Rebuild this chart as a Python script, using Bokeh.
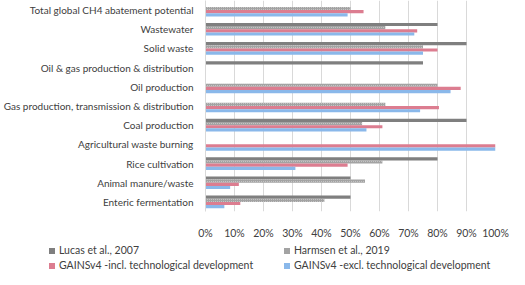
import numpy as np
from bokeh.plotting import figure
from bokeh.layouts import column
from bokeh.models import ColumnDataSource, FactorRange, PrintfTickFormatter, FixedTicker, Div
from bokeh.transform import dodge
from bokeh.embed import file_html
from bokeh.resources import INLINE

nan = np.nan
categories = [
    "Total global CH4 abatement potential",
    "Wastewater",
    "Solid waste",
    "Oil & gas production & distribution",
    "Oil production",
    "Gas production, transmission & distribution",
    "Coal production",
    "Agricultural waste burning",
    "Rice cultivation",
    "Animal manure/waste",
    "Enteric fermentation",
]
lucas = [nan, 80, 90, 75, nan, nan, 90, nan, 80, 50, 50]
harmsen = [50, 62, 75, nan, 80, 62, 54, nan, 61, 55, 41]
gains_incl = [54.5, 73, 80, nan, 88, 80.5, 61, 100, 49, 11.5, 12]
gains_excl = [49, 72, 75, nan, 84.5, 74, 55.5, 100, 31, 8.5, 6.5]
x_ticks = [0, 10, 20, 30, 40, 50, 60, 70, 80, 90, 100]
series_names = ["Lucas et al., 2007", "Harmsen et al., 2019",
                "GAINSv4 -incl. technological development",
                "GAINSv4 -excl. technological development"]
colors = ["#7f7f7f", "#a3a3a3", "#dc7d90", "#8ab8ea"]

src = ColumnDataSource(dict(cat=categories, lucas=lucas, harmsen=harmsen,
                            incl=gains_incl, excl=gains_excl))

FONT = "Lato"
TXT = "#404040"
HATCH = dict(hatch_pattern=".", hatch_color="#cfcfcf", hatch_scale=2, hatch_weight=1)

p = figure(width=509, height=241, output_backend="svg", toolbar_location=None,
           y_range=FactorRange(factors=list(reversed(categories)), range_padding=0),
           x_range=(0, 100),
           min_border_left=199, min_border_right=14, min_border_top=0, min_border_bottom=24)
p.outline_line_color = None

bh = 0.165
fields = ["lucas", "harmsen", "incl", "excl"]
offsets = [1.5 * bh, 0.5 * bh, -0.5 * bh, -1.5 * bh]
for i, (f, off) in enumerate(zip(fields, offsets)):
    extra = HATCH if i == 1 else {}
    p.hbar(y=dodge("cat", off, range=p.y_range), right=f, left=0, height=bh,
           source=src, fill_color=colors[i], line_color=None, **extra)

# axes
p.xaxis.ticker = FixedTicker(ticks=x_ticks)
p.xaxis.formatter = PrintfTickFormatter(format="%d%%")
p.xaxis.axis_line_color = None
p.xaxis.major_tick_line_color = None
p.xaxis.minor_tick_line_color = None
p.xaxis.major_label_text_font = FONT
p.xaxis.major_label_text_font_size = "10.5px"
p.xaxis.major_label_text_color = TXT
p.xaxis.major_label_standoff = 9

p.yaxis.axis_line_color = "#d9d9d9"
p.yaxis.major_tick_line_color = None
p.yaxis.minor_tick_line_color = None
p.yaxis.major_label_text_font = FONT
p.yaxis.major_label_text_font_size = "10px"
p.yaxis.major_label_text_color = TXT
p.yaxis.major_label_standoff = 6

p.xgrid.grid_line_color = "#d9d9d9"
p.ygrid.grid_line_color = None

# legend (two columns, two rows) as a simple HTML strip under the chart
col_x = [49, 284]
row_y = [3, 18]
parts = []
for i, name in enumerate(series_names):
    cx = col_x[i % 2]
    ry = row_y[i // 2]
    parts.append(
        f'<span style="position:absolute;left:{cx}px;top:{ry + 4}px;width:6px;height:6px;'
        f'background:{colors[i]};"></span>'
        f'<span style="position:absolute;left:{cx + 10}px;top:{ry}px;line-height:13px;'
        f'white-space:nowrap;">{name.replace("&", "&amp;")}</span>')
html = (f'<div style="position:relative;width:509px;height:28px;font-family:{FONT};'
        f'font-size:10.5px;color:{TXT};">' + "".join(parts) + '</div>')
legend_div = Div(text=html, width=509, height=28, margin=(0, 0, 0, 0))

layout = column(p, legend_div, spacing=0)
open("out.html", "w").write(file_html(layout, INLINE))
